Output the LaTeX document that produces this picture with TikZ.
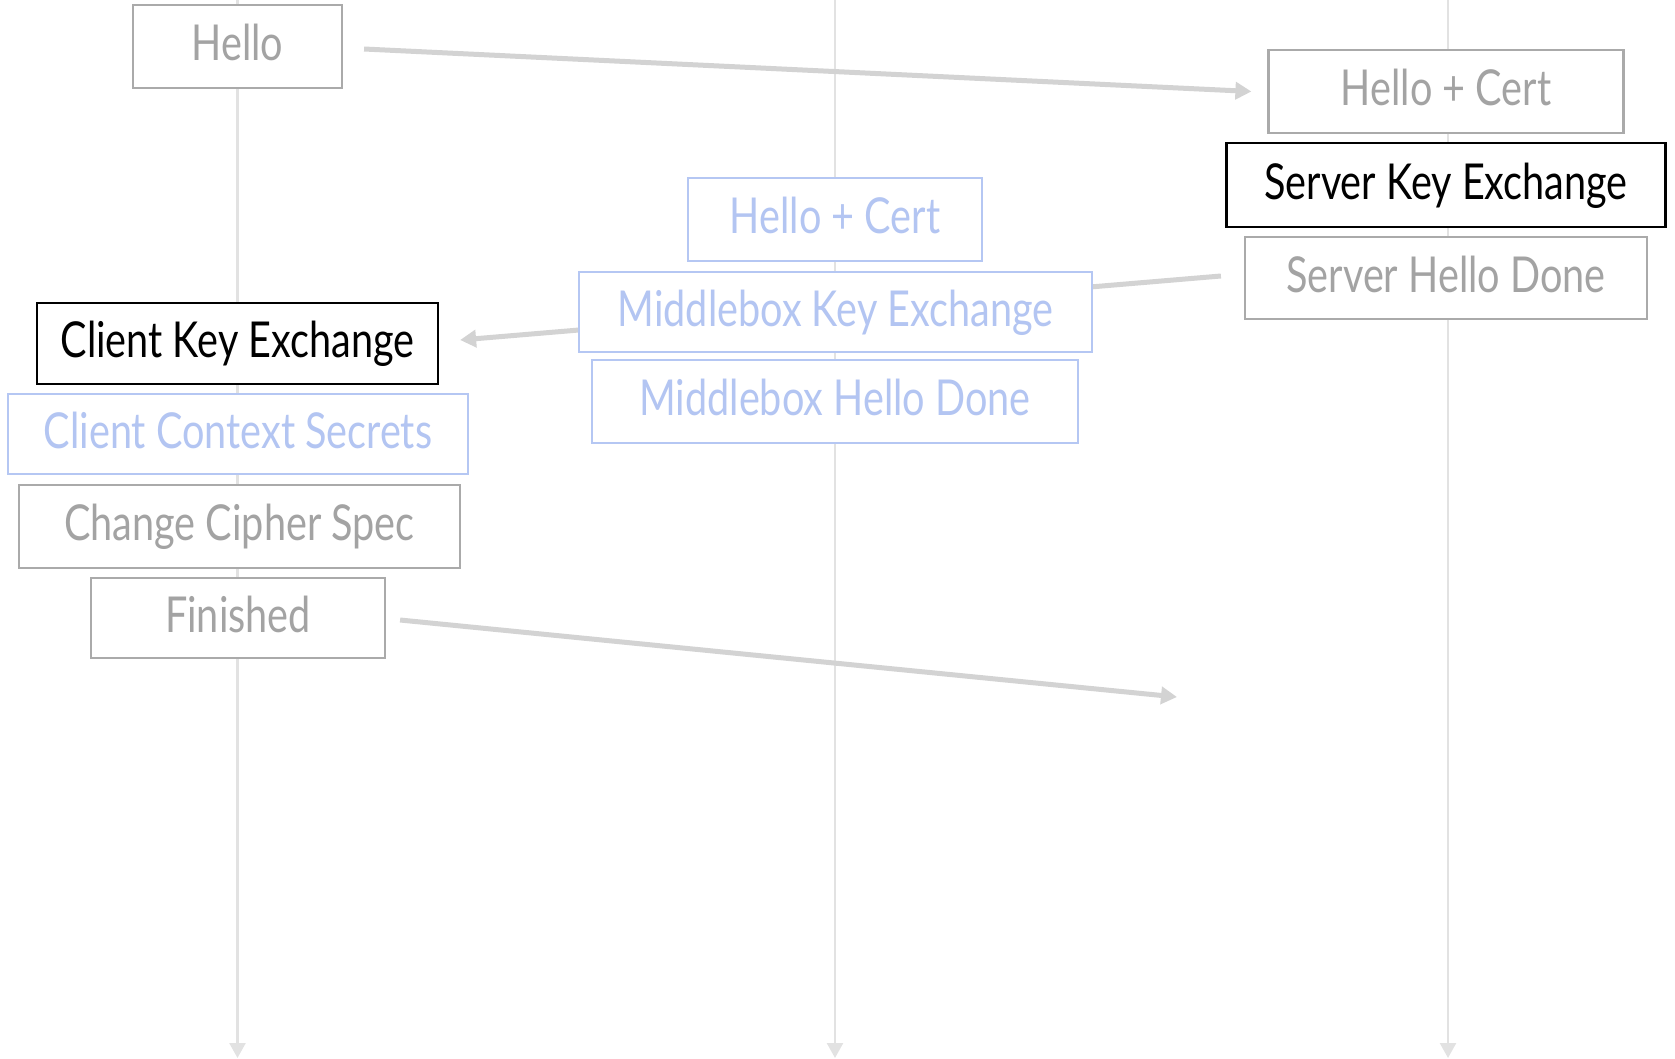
\documentclass[tikz,border=0pt]{standalone}
\usepackage{fontspec}
\setmainfont{Lato}[FakeStretch=0.80]
\usetikzlibrary{arrows.meta}
\pgfdeclarelayer{bg}
\pgfsetlayers{bg,main}
\definecolor{boxgray}{HTML}{AAAAAA}
\definecolor{txtgray}{HTML}{A3A3A3}
\definecolor{boxblue}{HTML}{B5C7F3}
\definecolor{txtblue}{HTML}{B3C5F2}
\definecolor{arrgray}{HTML}{D3D3D3}
\definecolor{lifegray}{HTML}{E2E2E2}
\tikzset{
  msgbox/.style={draw, fill=white, rectangle, inner sep=0pt, line width=2.2pt,
    font=\fontsize{49.5}{50}\selectfont, text height=36pt, text depth=8pt, align=center},
  graybox/.style={msgbox, draw=boxgray, text=txtgray},
  bluebox/.style={msgbox, draw=boxblue, text=txtblue},
  blackbox/.style={msgbox, draw=black, text=black},
  lifeline/.style={draw=lifegray, line width=2.5pt, -{Triangle[length=15pt,width=16pt]}},
  msgarrow/.style={draw=arrgray, line width=5pt, -{Triangle[length=16pt,width=17pt]}},
}
\begin{document}
\begin{tikzpicture}[x=1pt,y=-1pt]
\useasboundingbox (0,0) rectangle (1675,1058);
\coordinate (ltop) at (237.5,0);
\coordinate (lbot) at (237.5,1058);
\coordinate (mtop) at (835,0);
\coordinate (mbot) at (835,1058);
\coordinate (rtop) at (1448,0);
\coordinate (rbot) at (1448,1058);
\coordinate (finend) at (1177,697);
\path
  (237.5,46.5) node[graybox, minimum width=209pt, minimum height=83pt] (hello) {Hello}
  (1446,91.5) node[graybox, minimum width=355pt, minimum height=83pt] (shc) {Hello + Cert}
  (1446,185) node[blackbox, minimum width=439pt, minimum height=84pt] (ske) {Server Key Exchange}
  (1446,278) node[graybox, minimum width=402pt, minimum height=82pt] (shd) {Server Hello Done}
  (835,219.5) node[bluebox, minimum width=294pt, minimum height=83pt] (mhc) {Hello + Cert}
  (835.5,312) node[bluebox, minimum width=513pt, minimum height=80pt] (mke) {Middlebox Key Exchange}
  (835,401.5) node[bluebox, minimum width=486pt, minimum height=83pt] (mhd) {Middlebox Hello Done}
  (237.5,343.5) node[blackbox, minimum width=401pt, minimum height=81pt] (cke) {Client Key Exchange}
  (238,434) node[bluebox, minimum width=460pt, minimum height=80pt] (ccs) {Client Context Secrets}
  (239.5,526.5) node[graybox, minimum width=441pt, minimum height=83pt] (chg) {Change Cipher Spec}
  (238,618) node[graybox, minimum width=294pt, minimum height=80pt] (fin) {Finished};
\begin{pgfonlayer}{bg}
\draw[lifeline] (ltop) -- (lbot);
\draw[lifeline] (mtop) -- (mbot);
\draw[lifeline] (rtop) -- (rbot);
\draw[msgarrow] ([xshift=21pt,yshift=-2.5pt]hello.east) -- ([xshift=-16pt]shc.west);
\draw[msgarrow] ([xshift=-23pt,yshift=2pt]shd.west) -- ([xshift=21pt,yshift=3.5pt]cke.east);
\draw[msgarrow] ([xshift=14pt,yshift=-2pt]fin.east) -- (finend);
\end{pgfonlayer}
\end{tikzpicture}
\end{document}
